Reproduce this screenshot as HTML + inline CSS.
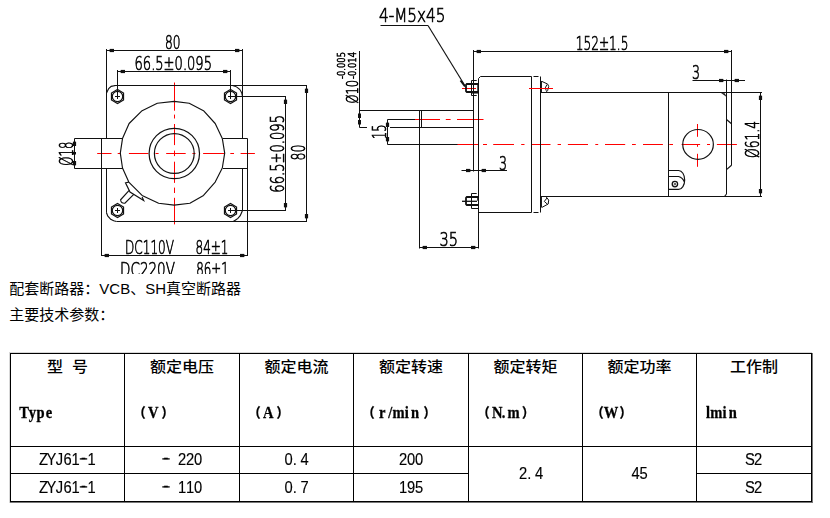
<!DOCTYPE html>
<html lang="zh">
<head>
<meta charset="utf-8">
<title>ZYJ61-1</title>
<style>
html,body{margin:0;padding:0;background:#fff;}
#page{position:relative;width:830px;height:518px;overflow:hidden;background:#fff;color:#000;}
#drawing{position:absolute;left:0;top:0;will-change:transform;}
#tabletext{position:absolute;left:0;top:0;pointer-events:none;}
.cad{font-family:"DejaVu Sans Light","DejaVu Sans","Liberation Sans",sans-serif;font-weight:200;fill:#000;stroke:#000;stroke-width:0.7px;}
.p{position:absolute;left:9.3px;margin:0;font-family:"Liberation Sans","Noto Sans CJK SC",sans-serif;font-size:15px;line-height:20px;white-space:nowrap;color:#000;}
.ln{position:absolute;}
.th{position:absolute;text-align:center;font-family:"Liberation Sans","Noto Sans CJK SC",sans-serif;font-weight:500;font-size:16px;line-height:22px;white-space:pre;word-spacing:4.5px;transform:scaleY(0.92);transform-origin:50% 50%;}
.sub{font-family:"Liberation Serif","Noto Serif CJK SC",serif;font-weight:bold;font-size:16.5px;text-anchor:middle;fill:#000;stroke:#000;stroke-width:0.3px;}
.pn{font-family:"Noto Sans CJK SC",sans-serif;font-weight:900;font-size:13.5px;stroke-width:0.2px;}
.td{font-family:"Liberation Sans","Noto Sans CJK SC",sans-serif;font-size:16px;text-anchor:middle;fill:#000;stroke:#000;stroke-width:0.15px;}
</style>
</head>
<body>
<div id="page">
<svg id="drawing" width="830" height="274" viewBox="0 0 830 274">
<line x1="97.2" y1="153.5" x2="111.5" y2="153.5" stroke="#f00" stroke-width="1" />
<line x1="117.7" y1="153.5" x2="120.7" y2="153.5" stroke="#f00" stroke-width="1" />
<line x1="128.9" y1="153.5" x2="148.4" y2="153.5" stroke="#f00" stroke-width="1" />
<line x1="155.5" y1="153.5" x2="158.6" y2="153.5" stroke="#f00" stroke-width="1" />
<line x1="166.2" y1="153.5" x2="185.7" y2="153.5" stroke="#f00" stroke-width="1" />
<line x1="192.4" y1="153.5" x2="195.5" y2="153.5" stroke="#f00" stroke-width="1" />
<line x1="203.1" y1="153.5" x2="224.2" y2="153.5" stroke="#f00" stroke-width="1" />
<line x1="230.3" y1="153.5" x2="234" y2="153.5" stroke="#f00" stroke-width="1" />
<line x1="240.6" y1="153.5" x2="254.9" y2="153.5" stroke="#f00" stroke-width="1" />
<line x1="174.5" y1="82.5" x2="174.5" y2="110.7" stroke="#f00" stroke-width="1" />
<line x1="174.5" y1="114.6" x2="174.5" y2="118.5" stroke="#f00" stroke-width="1" />
<line x1="174.5" y1="124" x2="174.5" y2="145.1" stroke="#f00" stroke-width="1" />
<line x1="174.5" y1="150.6" x2="174.5" y2="156.1" stroke="#f00" stroke-width="1" />
<line x1="174.5" y1="161.7" x2="174.5" y2="182.9" stroke="#f00" stroke-width="1" />
<line x1="174.5" y1="187.6" x2="174.5" y2="193" stroke="#f00" stroke-width="1" />
<line x1="174.5" y1="197.8" x2="174.5" y2="224.4" stroke="#f00" stroke-width="1" />
<line x1="462" y1="88.5" x2="476" y2="88.5" stroke="#f00" stroke-width="1" />
<line x1="697.5" y1="124" x2="697.5" y2="136.8" stroke="#f00" stroke-width="1" />
<line x1="697.5" y1="144.5" x2="697.5" y2="146.8" stroke="#f00" stroke-width="1" />
<line x1="697.5" y1="153.8" x2="697.5" y2="166.8" stroke="#f00" stroke-width="1" />
<line x1="415" y1="119.5" x2="440" y2="119.5" stroke="#f00" stroke-width="1" />
<line x1="445.8" y1="119.5" x2="450.6" y2="119.5" stroke="#f00" stroke-width="1" />
<line x1="457" y1="119.5" x2="483.5" y2="119.5" stroke="#f00" stroke-width="1" />
<line x1="457" y1="144.5" x2="478.2" y2="144.5" stroke="#f00" stroke-width="1" />
<line x1="483" y1="144.5" x2="487" y2="144.5" stroke="#f00" stroke-width="1" />
<line x1="493.2" y1="144.5" x2="514" y2="144.5" stroke="#f00" stroke-width="1" />
<line x1="521.2" y1="144.5" x2="524.5" y2="144.5" stroke="#f00" stroke-width="1" />
<line x1="531.9" y1="144.5" x2="550.5" y2="144.5" stroke="#f00" stroke-width="1" />
<line x1="557.6" y1="144.5" x2="561" y2="144.5" stroke="#f00" stroke-width="1" />
<line x1="567.9" y1="144.5" x2="588" y2="144.5" stroke="#f00" stroke-width="1" />
<line x1="595.3" y1="144.5" x2="598.2" y2="144.5" stroke="#f00" stroke-width="1" />
<line x1="605" y1="144.5" x2="625.2" y2="144.5" stroke="#f00" stroke-width="1" />
<line x1="632" y1="144.5" x2="635.8" y2="144.5" stroke="#f00" stroke-width="1" />
<line x1="643" y1="144.5" x2="662.9" y2="144.5" stroke="#f00" stroke-width="1" />
<line x1="669.3" y1="144.5" x2="673" y2="144.5" stroke="#f00" stroke-width="1" />
<line x1="681.6" y1="144.5" x2="700.1" y2="144.5" stroke="#f00" stroke-width="1" />
<line x1="707" y1="144.5" x2="710" y2="144.5" stroke="#f00" stroke-width="1" />
<line x1="716.9" y1="144.5" x2="736.9" y2="144.5" stroke="#f00" stroke-width="1" />
<line x1="106.5" y1="50.5" x2="242.5" y2="50.5" stroke="#111" stroke-width="1" />
<line x1="106.5" y1="49" x2="106.5" y2="138.5" stroke="#111" stroke-width="1" />
<line x1="106.5" y1="168.5" x2="106.5" y2="212.8" stroke="#111" stroke-width="1" />
<line x1="242.5" y1="49" x2="242.5" y2="138.5" stroke="#111" stroke-width="1" />
<line x1="242.5" y1="168.5" x2="242.5" y2="210.5" stroke="#111" stroke-width="1" />
<rect x="109.8" y="48.9" width="4.2" height="3.2" fill="#111"/>
<path d="M107.0,50.5 L110.5,49.5 L110.5,51.5 Z" fill="#111" stroke="#111" stroke-width="0" />
<rect x="235.0" y="48.9" width="4.2" height="3.2" fill="#111"/>
<path d="M242.0,50.5 L238.5,49.5 L238.5,51.5 Z" fill="#111" stroke="#111" stroke-width="0" />
<text class="cad" x="165" y="49" font-size="20" textLength="15.5" lengthAdjust="spacingAndGlyphs">80</text>
<line x1="117.5" y1="71.5" x2="230.5" y2="71.5" stroke="#111" stroke-width="1" />
<line x1="117.5" y1="70" x2="117.5" y2="96.5" stroke="#111" stroke-width="1" />
<line x1="230.5" y1="70" x2="230.5" y2="96.5" stroke="#111" stroke-width="1" />
<rect x="120.8" y="69.9" width="4.2" height="3.2" fill="#111"/>
<path d="M118.0,71.5 L121.5,70.5 L121.5,72.5 Z" fill="#111" stroke="#111" stroke-width="0" />
<rect x="223.0" y="69.9" width="4.2" height="3.2" fill="#111"/>
<path d="M230.0,71.5 L226.5,70.5 L226.5,72.5 Z" fill="#111" stroke="#111" stroke-width="0" />
<text class="cad" x="134.5" y="70" font-size="20" textLength="77.5" lengthAdjust="spacingAndGlyphs">66.5±0.095</text>
<line x1="114.5" y1="85.5" x2="307" y2="85.5" stroke="#111" stroke-width="1" />
<line x1="116.5" y1="221.5" x2="307" y2="221.5" stroke="#111" stroke-width="1" />
<path d="M106.5,93.0 L108.7,88.5 L111.2,86.4 L115.5,85.5" fill="none" stroke="#111" stroke-width="1.15" />
<path d="M232.5,85.5 Q241.5,87.5 242.5,96.5" fill="none" stroke="#111" stroke-width="1.15" />
<path d="M106.5,212.8 L107.7,216 L110.7,219.3 L113.7,220.8 L116.5,221.5" fill="none" stroke="#111" stroke-width="1.15" />
<path d="M242.5,210.5 L241.3,213.2 L240.2,215.7 L237.9,218.4 L236,219.7 L233.3,221.5" fill="none" stroke="#111" stroke-width="1.15" />
<path d="M123.56,100.00 L117.50,103.50 L111.44,100.00 L111.44,93.00 L117.50,89.50 L123.56,93.00 Z" fill="none" stroke="#111" stroke-width="1.15" />
<circle cx="117.5" cy="96.5" r="5.2" fill="none" stroke="#111" stroke-width="1.2"/>
<line x1="115.0" y1="96.5" x2="120.0" y2="96.5" stroke="#111" stroke-width="1" />
<line x1="117.5" y1="94.0" x2="117.5" y2="99.0" stroke="#111" stroke-width="1" />
<path d="M123.56,214.00 L117.50,217.50 L111.44,214.00 L111.44,207.00 L117.50,203.50 L123.56,207.00 Z" fill="none" stroke="#111" stroke-width="1.15" />
<circle cx="117.5" cy="210.5" r="5.2" fill="none" stroke="#111" stroke-width="1.2"/>
<line x1="115.0" y1="210.5" x2="120.0" y2="210.5" stroke="#111" stroke-width="1" />
<line x1="117.5" y1="208.0" x2="117.5" y2="213.0" stroke="#111" stroke-width="1" />
<path d="M236.56,100.00 L230.50,103.50 L224.44,100.00 L224.44,93.00 L230.50,89.50 L236.56,93.00 Z" fill="none" stroke="#111" stroke-width="1.15" />
<circle cx="230.5" cy="96.5" r="5.2" fill="none" stroke="#111" stroke-width="1.2"/>
<line x1="228.0" y1="96.5" x2="233.0" y2="96.5" stroke="#111" stroke-width="1" />
<line x1="230.5" y1="94.0" x2="230.5" y2="99.0" stroke="#111" stroke-width="1" />
<path d="M236.56,214.00 L230.50,217.50 L224.44,214.00 L224.44,207.00 L230.50,203.50 L236.56,207.00 Z" fill="none" stroke="#111" stroke-width="1.15" />
<circle cx="230.5" cy="210.5" r="5.2" fill="none" stroke="#111" stroke-width="1.2"/>
<line x1="228.0" y1="210.5" x2="233.0" y2="210.5" stroke="#111" stroke-width="1" />
<line x1="230.5" y1="208.0" x2="230.5" y2="213.0" stroke="#111" stroke-width="1" />
<line x1="230.5" y1="96.5" x2="286" y2="96.5" stroke="#111" stroke-width="1" />
<line x1="230.5" y1="210.5" x2="286" y2="210.5" stroke="#111" stroke-width="1" />
<line x1="285.5" y1="96.5" x2="285.5" y2="210.5" stroke="#111" stroke-width="1" />
<rect x="283.9" y="99.8" width="3.2" height="4.2" fill="#111"/>
<path d="M285.5,97.0 L284.5,100.5 L286.5,100.5 Z" fill="#111" stroke="#111" stroke-width="0" />
<rect x="283.9" y="203.0" width="3.2" height="4.2" fill="#111"/>
<path d="M285.5,210.0 L284.5,206.5 L286.5,206.5 Z" fill="#111" stroke="#111" stroke-width="0" />
<text class="cad" x="283.8" y="192.7" font-size="20" textLength="77.7" lengthAdjust="spacingAndGlyphs" transform="rotate(-90 283.8 192.7)">66.5±0.095</text>
<line x1="306.5" y1="85.5" x2="306.5" y2="221.5" stroke="#111" stroke-width="1" />
<rect x="304.9" y="88.8" width="3.2" height="4.2" fill="#111"/>
<path d="M306.5,86.0 L305.5,89.5 L307.5,89.5 Z" fill="#111" stroke="#111" stroke-width="0" />
<rect x="304.9" y="214.0" width="3.2" height="4.2" fill="#111"/>
<path d="M306.5,221.0 L305.5,217.5 L307.5,217.5 Z" fill="#111" stroke="#111" stroke-width="0" />
<text class="cad" x="304.7" y="160.5" font-size="20" textLength="15.8" lengthAdjust="spacingAndGlyphs" transform="rotate(-90 304.7 160.5)">80</text>
<path d="M120.3,153.2 L122.5,138.6 L129.1,123.5 L142.1,110.7 L157.3,103.3 L174.2,101.4 L189.2,103.3 L203.5,110.7 L215.2,123.5 L222.3,138.4 L224.7,153.2 L222.3,168 L215.2,182.1 L203.5,195.4 L189.9,203.3 L174.2,205.1 L158.6,203.3 L142.1,195.4 L128.8,182.1 L122.5,168 Z" fill="none" stroke="#111" stroke-width="1.15" stroke-linejoin="round"/>
<circle cx="174.3" cy="153.5" r="25.2" fill="none" stroke="#111" stroke-width="1.2"/>
<circle cx="174.3" cy="153.5" r="19.9" fill="none" stroke="#111" stroke-width="1.2"/>
<line x1="74.5" y1="138.5" x2="123" y2="138.5" stroke="#111" stroke-width="1" />
<line x1="74.5" y1="168.5" x2="123" y2="168.5" stroke="#111" stroke-width="1" />
<line x1="74.5" y1="138.5" x2="74.5" y2="168.5" stroke="#111" stroke-width="1" />
<line x1="223" y1="138.5" x2="247.5" y2="138.5" stroke="#111" stroke-width="1" />
<line x1="223" y1="168.5" x2="247.5" y2="168.5" stroke="#111" stroke-width="1" />
<line x1="101.5" y1="138.5" x2="101.5" y2="256" stroke="#111" stroke-width="1" />
<line x1="247.5" y1="138.5" x2="247.5" y2="256" stroke="#111" stroke-width="1" />
<rect x="72.9" y="141.8" width="3.2" height="4.2" fill="#111"/>
<path d="M74.5,139.0 L73.5,142.5 L75.5,142.5 Z" fill="#111" stroke="#111" stroke-width="0" />
<rect x="72.9" y="161.0" width="3.2" height="4.2" fill="#111"/>
<path d="M74.5,168.0 L73.5,164.5 L75.5,164.5 Z" fill="#111" stroke="#111" stroke-width="0" />
<rect x="73" y="152" width="3" height="2.5" fill="#111"/>
<text class="cad" x="73" y="165.7" font-size="20" textLength="24" lengthAdjust="spacingAndGlyphs" transform="rotate(-90 73 165.7)">Ø18</text>
<path d="M129.6,189.9 L120.6,199.8 Q120.8,203.6 124.9,203.2 L133.5,194.6 M128.8,182.1 L125.5,182.8 L130,192 L143.7,200.6 L142.1,197" fill="none" stroke="#111" stroke-width="1.15" />
<line x1="101.5" y1="255.5" x2="247.5" y2="255.5" stroke="#111" stroke-width="1" />
<rect x="104.8" y="253.9" width="4.2" height="3.2" fill="#111"/>
<path d="M102.0,255.5 L105.5,254.5 L105.5,256.5 Z" fill="#111" stroke="#111" stroke-width="0" />
<rect x="240.0" y="253.9" width="4.2" height="3.2" fill="#111"/>
<path d="M247.0,255.5 L243.5,254.5 L243.5,256.5 Z" fill="#111" stroke="#111" stroke-width="0" />
<text class="cad" x="125" y="254" font-size="20" textLength="49" lengthAdjust="spacingAndGlyphs">DC110V</text>
<text class="cad" x="195.5" y="254" font-size="20" textLength="33" lengthAdjust="spacingAndGlyphs">84±1</text>
<text class="cad" x="120" y="275.5" font-size="20" textLength="55" lengthAdjust="spacingAndGlyphs">DC220V</text>
<text class="cad" x="196.3" y="275.5" font-size="20" textLength="32.5" lengthAdjust="spacingAndGlyphs">86±1</text>
<text class="cad" x="379" y="21.5" font-size="20" textLength="66.5" lengthAdjust="spacingAndGlyphs">4-M5x45</text>
<line x1="380.5" y1="25.5" x2="428" y2="25.5" stroke="#111" stroke-width="1" />
<line x1="428" y1="25.5" x2="464.5" y2="85" stroke="#111" stroke-width="1.15" />
<text class="cad" x="358" y="103.5" font-size="16" textLength="23.5" lengthAdjust="spacingAndGlyphs" transform="rotate(-90 358 103.5)">Ø10</text>
<text class="cad" x="345" y="79" font-size="10" textLength="27" lengthAdjust="spacingAndGlyphs" transform="rotate(-90 345 79)">-0.005</text>
<text class="cad" x="355.7" y="79" font-size="10" textLength="27" lengthAdjust="spacingAndGlyphs" transform="rotate(-90 355.7 79)">-0.014</text>
<line x1="359.5" y1="51" x2="359.5" y2="127.5" stroke="#111" stroke-width="1" />
<line x1="359.5" y1="127.5" x2="367" y2="127.5" stroke="#111" stroke-width="1" />
<line x1="359.5" y1="110.5" x2="473.5" y2="110.5" stroke="#111" stroke-width="1" />
<rect x="358" y="113.5" width="3" height="4.5" fill="#111"/>
<rect x="358" y="120" width="3" height="4.5" fill="#111"/>
<line x1="390" y1="127.5" x2="473.5" y2="127.5" stroke="#111" stroke-width="1" />
<line x1="387.5" y1="119.5" x2="387.5" y2="144.5" stroke="#111" stroke-width="1" />
<line x1="387.5" y1="119.5" x2="415" y2="119.5" stroke="#111" stroke-width="1" />
<line x1="387.5" y1="144.5" x2="457.5" y2="144.5" stroke="#111" stroke-width="1" />
<rect x="385.9" y="122.8" width="3.2" height="4.2" fill="#111"/>
<path d="M387.5,120.0 L386.5,123.5 L388.5,123.5 Z" fill="#111" stroke="#111" stroke-width="0" />
<rect x="385.9" y="137.0" width="3.2" height="4.2" fill="#111"/>
<path d="M387.5,144.0 L386.5,140.5 L388.5,140.5 Z" fill="#111" stroke="#111" stroke-width="0" />
<text class="cad" x="386" y="139" font-size="20" textLength="14.5" lengthAdjust="spacingAndGlyphs" transform="rotate(-90 386 139)">15</text>
<line x1="419.5" y1="110.5" x2="419.5" y2="248.5" stroke="#111" stroke-width="1" />
<line x1="421.5" y1="110.5" x2="421.5" y2="127.5" stroke="#111" stroke-width="1" />
<line x1="473.5" y1="50" x2="473.5" y2="171.5" stroke="#111" stroke-width="1" />
<line x1="473.5" y1="51.5" x2="731.5" y2="51.5" stroke="#111" stroke-width="1" />
<line x1="731.5" y1="50" x2="731.5" y2="165.5" stroke="#111" stroke-width="1" />
<rect x="476.8" y="49.9" width="4.2" height="3.2" fill="#111"/>
<path d="M474.0,51.5 L477.5,50.5 L477.5,52.5 Z" fill="#111" stroke="#111" stroke-width="0" />
<rect x="724.0" y="49.9" width="4.2" height="3.2" fill="#111"/>
<path d="M731.0,51.5 L727.5,50.5 L727.5,52.5 Z" fill="#111" stroke="#111" stroke-width="0" />
<text class="cad" x="575.7" y="50" font-size="20" textLength="52.7" lengthAdjust="spacingAndGlyphs">152±1.5</text>
<path d="M478.5,248.5 L478.5,78.5 L480.5,76.5 L531.5,76.5" fill="none" stroke="#111" stroke-width="1" />
<line x1="531.5" y1="76.5" x2="531.5" y2="212.5" stroke="#111" stroke-width="1" />
<line x1="478.5" y1="212.5" x2="531.5" y2="212.5" stroke="#111" stroke-width="1" />
<line x1="533.5" y1="76.5" x2="538.5" y2="76.5" stroke="#111" stroke-width="1" />
<line x1="533.5" y1="212.5" x2="538.5" y2="212.5" stroke="#111" stroke-width="1" />
<line x1="540.5" y1="76.5" x2="540.5" y2="212.5" stroke="#111" stroke-width="1" />
<path d="M478,84 L466.8,84 L466,84.8 L466,91.2 L466.8,92 L478,92" fill="none" stroke="#111" stroke-width="1.8" />
<line x1="478" y1="83.2" x2="478" y2="92.8" stroke="#111" stroke-width="1.4" />
<path d="M476.7,80.5 L471.5,80.5 L471.5,95.5 L476.7,95.5" fill="none" stroke="#111" stroke-width="1" />
<line x1="471.5" y1="93.2" x2="478" y2="93.2" stroke="#111" stroke-width="0.8" />
<path d="M460.5,80.5 L465,86.5" fill="none" stroke="#111" stroke-width="1.8" />
<path d="M478,197 L466.8,197 L466,197.8 L466,204.2 L466.8,205 L478,205" fill="none" stroke="#111" stroke-width="1.8" />
<path d="M476.7,193.5 L471.5,193.5 L471.5,208.5 L478,208.5" fill="none" stroke="#111" stroke-width="1" />
<line x1="462" y1="201.3" x2="477" y2="201.3" stroke="#111" stroke-width="1.3" />
<line x1="478" y1="197" x2="478" y2="200.8" stroke="#111" stroke-width="1.6" />
<path d="M541.9,81.4 L547.7,84.1 L548.7,86.5 L547.7,90.4 L546.3,92 M546.9,84.6 L545.3,87.9 L546.3,90.8" fill="none" stroke="#111" stroke-width="1" />
<line x1="541" y1="81" x2="541" y2="92.5" stroke="#111" stroke-width="1.9" />
<line x1="529" y1="88.5" x2="553" y2="88.5" stroke="#ff0000" stroke-width="1"/>
<path d="M546.3,197 L548.7,200.1 L548.2,204 L541.9,207.4 M547,198 L544.3,201.4 L547.5,204.3" fill="none" stroke="#111" stroke-width="1" />
<line x1="541" y1="196.5" x2="541" y2="207.6" stroke="#111" stroke-width="1.9" />
<line x1="540.5" y1="92.5" x2="762" y2="92.5" stroke="#111" stroke-width="1" />
<line x1="540.5" y1="196.5" x2="762" y2="196.5" stroke="#111" stroke-width="1" />
<line x1="668.5" y1="92.5" x2="668.5" y2="196.5" stroke="#111" stroke-width="1" />
<line x1="726.5" y1="79.5" x2="726.5" y2="194" stroke="#111" stroke-width="1" />
<line x1="726.5" y1="194" x2="724.5" y2="196.5" stroke="#111" stroke-width="1.15" />
<path d="M731.5,165.3 L726.5,169.6" fill="none" stroke="#111" stroke-width="1.15" />
<path d="M726.5,119.5 L731.5,123.8" fill="none" stroke="#111" stroke-width="1.15" />
<path d="M721.5,93 L724.5,93.4 L726,96.2 Z" fill="#111" stroke="#111" stroke-width="0.5" />
<line x1="692.5" y1="80.5" x2="745" y2="80.5" stroke="#111" stroke-width="1" />
<rect x="719.0" y="78.9" width="4.2" height="3.2" fill="#111"/>
<path d="M726.0,80.5 L722.5,79.5 L722.5,81.5 Z" fill="#111" stroke="#111" stroke-width="0" />
<rect x="734.8" y="78.9" width="4.2" height="3.2" fill="#111"/>
<path d="M732.0,80.5 L735.5,79.5 L735.5,81.5 Z" fill="#111" stroke="#111" stroke-width="0" />
<text class="cad" x="692" y="78.5" font-size="20" textLength="8" lengthAdjust="spacingAndGlyphs">3</text>
<line x1="461.5" y1="170.5" x2="507" y2="170.5" stroke="#111" stroke-width="1" />
<rect x="466.0" y="168.9" width="4.2" height="3.2" fill="#111"/>
<path d="M473.0,170.5 L469.5,169.5 L469.5,171.5 Z" fill="#111" stroke="#111" stroke-width="0" />
<rect x="481.8" y="168.9" width="4.2" height="3.2" fill="#111"/>
<path d="M479.0,170.5 L482.5,169.5 L482.5,171.5 Z" fill="#111" stroke="#111" stroke-width="0" />
<text class="cad" x="499" y="169.5" font-size="20" textLength="8" lengthAdjust="spacingAndGlyphs">3</text>
<line x1="419.5" y1="247.5" x2="478.5" y2="247.5" stroke="#111" stroke-width="1" />
<rect x="422.8" y="245.9" width="4.2" height="3.2" fill="#111"/>
<path d="M420.0,247.5 L423.5,246.5 L423.5,248.5 Z" fill="#111" stroke="#111" stroke-width="0" />
<rect x="471.0" y="245.9" width="4.2" height="3.2" fill="#111"/>
<path d="M478.0,247.5 L474.5,246.5 L474.5,248.5 Z" fill="#111" stroke="#111" stroke-width="0" />
<text class="cad" x="439.5" y="246" font-size="20" textLength="18.5" lengthAdjust="spacingAndGlyphs">35</text>
<line x1="760.5" y1="92.5" x2="760.5" y2="196.5" stroke="#111" stroke-width="1" />
<rect x="758.9" y="95.8" width="3.2" height="4.2" fill="#111"/>
<path d="M760.5,93.0 L759.5,96.5 L761.5,96.5 Z" fill="#111" stroke="#111" stroke-width="0" />
<rect x="758.9" y="189.0" width="3.2" height="4.2" fill="#111"/>
<path d="M760.5,196.0 L759.5,192.5 L761.5,192.5 Z" fill="#111" stroke="#111" stroke-width="0" />
<text class="cad" x="759" y="158" font-size="20" textLength="37" lengthAdjust="spacingAndGlyphs" transform="rotate(-90 759 158)">Ø61.4</text>
<ellipse cx="698.05" cy="144.4" rx="15.3" ry="14.9" fill="none" stroke="#111" stroke-width="1.2"/>
<path d="M668.5,170.5 L678.6,170.5 A6.1,9.45 0 0 1 678.6,189.4 L668.5,189.4" fill="none" stroke="#111" stroke-width="1.15" />
<path d="M668.5,176.5 L678.6,176.5 Q682.6,177.6 684.3,181.8" fill="none" stroke="#111" stroke-width="1.15" />
<circle cx="674.9" cy="184.1" r="2.7" fill="none" stroke="#111" stroke-width="1.3"/>
<circle cx="674.9" cy="184.1" r="0.8" fill="none" stroke="#111" stroke-width="0.8"/>
</svg>
<p class="p" style="top:279px">配套断路器：VCB、SH真空断路器</p>
<p class="p" style="top:304.5px">主要技术参数：</p>
<div id="table">
<div class="ln" style="left:9px;top:352px;width:803px;height:1px;background:#d8d8d8"></div>
<div class="ln" style="left:9px;top:352px;width:1px;height:151px;background:#d8d8d8"></div>
<div class="ln" style="left:10px;top:502px;width:803px;height:1px;background:#777"></div>
<div class="ln" style="left:812px;top:353px;width:1px;height:150px;background:#777"></div>
<div class="ln" style="left:10px;top:353px;width:802px;height:1px;background:#000"></div>
<div class="ln" style="left:10px;top:501px;width:802px;height:1px;background:#000"></div>
<div class="ln" style="left:10px;top:353px;width:1px;height:149px;background:#000"></div>
<div class="ln" style="left:811px;top:353px;width:1px;height:149px;background:#000"></div>
<div class="ln" style="left:124px;top:353px;width:1px;height:149px;background:#000"></div>
<div class="ln" style="left:239px;top:353px;width:1px;height:149px;background:#000"></div>
<div class="ln" style="left:353px;top:353px;width:1px;height:149px;background:#000"></div>
<div class="ln" style="left:468px;top:353px;width:1px;height:149px;background:#000"></div>
<div class="ln" style="left:582px;top:353px;width:1px;height:149px;background:#000"></div>
<div class="ln" style="left:696px;top:353px;width:1px;height:149px;background:#000"></div>
<div class="ln" style="left:10px;top:446px;width:802px;height:1px;background:#000"></div>
<div class="ln" style="left:10px;top:473px;width:458px;height:1px;background:#000"></div>
<div class="ln" style="left:696px;top:473px;width:115px;height:1px;background:#000"></div>
<div class="th" style="left:11px;width:113px;top:355.5px">型 号</div>
<div class="th" style="left:125px;width:114px;top:355.5px">额定电压</div>
<div class="th" style="left:240px;width:113px;top:355.5px">额定电流</div>
<div class="th" style="left:354px;width:114px;top:355.5px">额定转速</div>
<div class="th" style="left:469px;width:113px;top:355.5px">额定转矩</div>
<div class="th" style="left:583px;width:113px;top:355.5px">额定功率</div>
<div class="th" style="left:697px;width:114px;top:355.5px">工作制</div>
<svg id="tabletext" width="830" height="518" viewBox="0 0 830 518">
<text class="sub" transform="scale(0.88 1)" x="27.41 36.79 46.16 55.54" y="417.60 417.60 417.60 417.60">Type</text>
<text class="td" transform="scale(0.92 1)" x="47.28 55.98 64.67 73.37 82.07 90.76 99.46" y="464.90 464.90 464.90 464.90 464.90 463.30 464.90">ZYJ61-1</text>
<rect x="79.80" y="458.25" width="7.4" height="1.3" fill="#000"/>
<text class="td" transform="scale(0.92 1)" x="47.28 55.98 64.67 73.37 82.07 90.76 99.46" y="492.90 492.90 492.90 492.90 492.90 491.30 492.90">ZYJ61-1</text>
<rect x="79.80" y="486.25" width="7.4" height="1.3" fill="#000"/>
<text class="sub" transform="scale(0.88 1)" x="158.86 174.01 190.40" y="416.90 417.60 416.90"><tspan class="pn">（</tspan>V<tspan class="pn">）</tspan></text>
<text class="td" transform="scale(0.92 1)" x="180.43 189.13 197.83 206.52 215.22" y="463.30 464.90 464.90 464.90 464.90">- 220</text>
<rect x="162.30" y="458.25" width="7.4" height="1.3" fill="#000"/>
<text class="td" transform="scale(0.92 1)" x="180.43 189.13 197.83 206.52 215.22" y="491.30 492.90 492.90 492.90 492.90">- 110</text>
<rect x="162.30" y="486.25" width="7.4" height="1.3" fill="#000"/>
<text class="sub" transform="scale(0.88 1)" x="289.55 304.69 321.08" y="416.90 417.60 416.90"><tspan class="pn">（</tspan>A<tspan class="pn">）</tspan></text>
<text class="td" transform="scale(0.92 1)" x="313.59 320.33 330.98" y="464.90 464.90 464.90">0.4</text>
<text class="td" transform="scale(0.92 1)" x="313.59 320.33 330.98" y="492.90 492.90 492.90">0.7</text>
<text class="sub" transform="scale(0.88 1)" x="419.09 434.23 443.61 452.98 462.36 471.73 488.12" y="416.90 417.60 417.60 417.60 417.60 417.60 416.90"><tspan class="pn">（</tspan>r/min<tspan class="pn">）</tspan></text>
<text class="td" transform="scale(0.92 1)" x="438.04 446.74 455.43" y="464.90 464.90 464.90">200</text>
<text class="td" transform="scale(0.92 1)" x="438.04 446.74 455.43" y="492.90 492.90 492.90">195</text>
<text class="sub" transform="scale(0.88 1)" x="549.77 564.91 572.33 583.66 600.06" y="416.90 417.60 417.60 417.60 416.90"><tspan class="pn">（</tspan>N.m<tspan class="pn">）</tspan></text>
<text class="sub" transform="scale(0.88 1)" x="679.32 694.46 710.85" y="416.90 417.60 416.90"><tspan class="pn">（</tspan>W<tspan class="pn">）</tspan></text>
<text class="sub" transform="scale(0.88 1)" x="804.69 814.06 823.44 832.81" y="417.60 417.60 417.60 417.60">lmin</text>
<text class="td" transform="scale(0.92 1)" x="815.22 823.91" y="464.90 464.90">S2</text>
<text class="td" transform="scale(0.92 1)" x="815.22 823.91" y="492.90 492.90">S2</text>
<text class="td" transform="scale(0.92 1)" x="568.48 575.22 585.87" y="478.90 478.90 478.90">2.4</text>
<text class="td" transform="scale(0.92 1)" x="690.76 699.46" y="478.90 478.90">45</text>
</svg>
</div>
</div>
</body>
</html>
